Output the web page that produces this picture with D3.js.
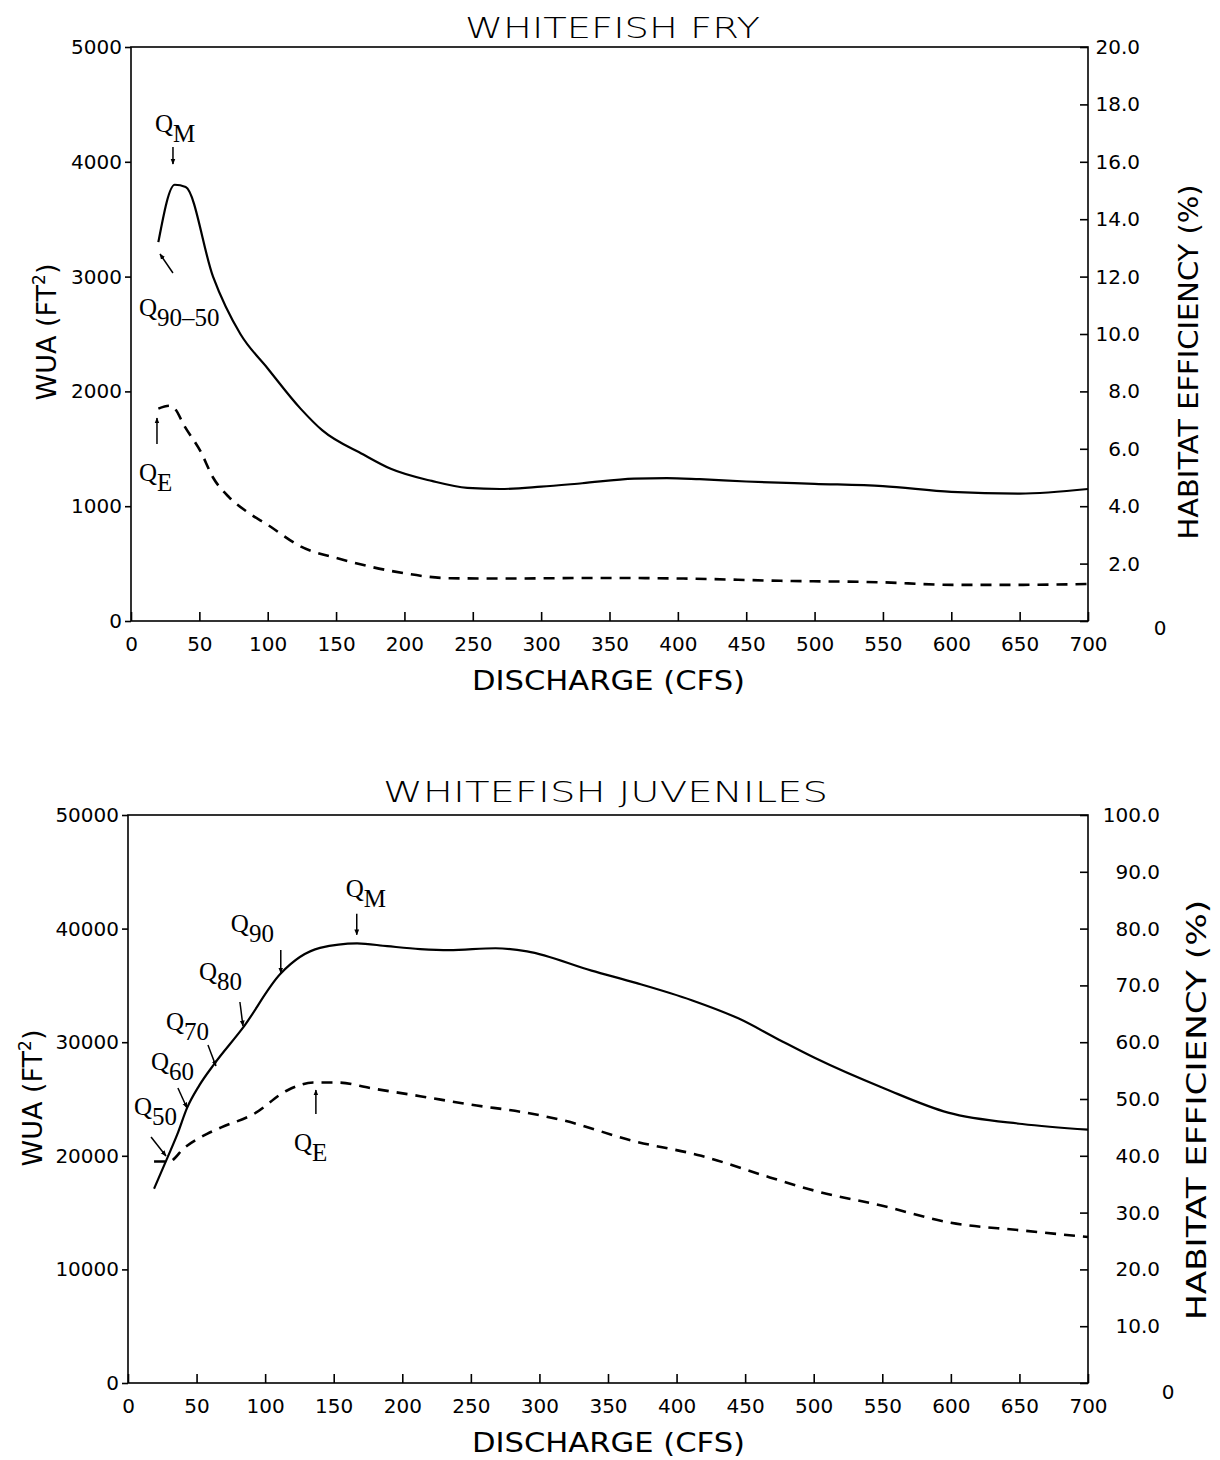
<!DOCTYPE html>
<html><head><meta charset="utf-8">
<script src="https://cdn.jsdelivr.net/npm/d3@7"></script>
<style>body{margin:0;background:#fff}</style></head>
<body>
<svg id="c" width="1220" height="1460"></svg>
<script>
// ---------- tick labels ----------
const xTickValues = [0,50,100,150,200,250,300,350,400,450,500,550,600,650,700];
const fryWuaTicks = [0,1000,2000,3000,4000,5000];
const fryEffTicks = [0,2,4,6,8,10,12,14,16,18,20];
const juvWuaTicks = [0,10000,20000,30000,40000,50000];
const juvEffTicks = [0,10,20,30,40,50,60,70,80,90,100];

// ---------- Whitefish fry ----------
const fryCfs = [20,32,40,60,80,100,124,140,170,190,220,246,270,300,330,368,392,416,450,500,550,600,650,700];
const fryWua = [3300,3800,3780,3000,2500,2200,1850,1660,1450,1326,1220,1160,1150,1170,1200,1240,1245,1235,1215,1195,1175,1125,1110,1150];
const fryEffCfs = [20,28,32,39,51,60,72,85,100,124,153,192,234,270,343,404,475,548,601,650,700];
const fryEff    = [7.4,7.5,7.4,6.8,5.9,5.0,4.3,3.8,3.35,2.6,2.16,1.73,1.49,1.48,1.5,1.48,1.4,1.35,1.26,1.26,1.29];

// ---------- Whitefish juveniles ----------
const juvCfs = [19,29,36,43,52,63,84,111,140,167,189,213,234,268,291,338,371,411,445,475,501,552,598,652,700];
const juvWua = [17100,19900,21900,24200,26200,28100,31300,36000,38300,38700,38450,38200,38100,38270,38000,36300,35200,33700,32100,30200,28600,25900,23800,22800,22300];
const juvEffCfs = [19,30,41,58,68,92,116,135,153,177,213,250,290,318,367,418,468,500,550,600,650,700];
const juvEff    = [39.0,39.0,41.4,43.9,45.0,47.4,51.5,52.9,52.9,51.9,50.5,49.0,47.6,46.2,42.7,40.0,36.2,33.9,31.2,28.2,26.9,25.7];

// ---------- annotations (data coordinates: cfs, WUA) ----------
const fryLabels = [
  {q:'Q', sub:'M', cfs:17.5, val:4260},
  {q:'Q', sub:'90\u201350', cfs:5.8, val:2657},
  {q:'Q', sub:'E', cfs:5.8, val:1220}
];
const fryArrows = [
  {c1:30.7, v1:4130, c2:30.7, v2:3980},
  {c1:30.7, v1:3031, c2:21.2, v2:3197},
  {c1:19,   v1:1542, c2:19,   v2:1768}
];
const juvLabels = [
  {q:'Q', sub:'M',  cfs:158.8, val:42800},
  {q:'Q', sub:'90', cfs:75,    val:39700},
  {q:'Q', sub:'80', cfs:51.7,  val:35480},
  {q:'Q', sub:'70', cfs:27.7,  val:31070},
  {q:'Q', sub:'60', cfs:16.8,  val:27550},
  {q:'Q', sub:'50', cfs:4.4,   val:23590},
  {q:'Q', sub:'E',  cfs:121,   val:20420}
];
const juvArrows = [
  {c1:166.8, v1:41300, c2:166.8, v2:39450},
  {c1:111.4, v1:38120, c2:111.4, v2:36090},
  {c1:81.6,  v1:33540, c2:83.8,  v2:31430},
  {c1:58.3,  v1:29750, c2:64.1,  v2:27900},
  {c1:36.4,  v1:25970, c2:43,    v2:24210},
  {c1:16.8,  v1:21650, c2:27.7,  v2:19980},
  {c1:137,   v1:23680, c2:137,   v2:25790}
];

const svg = d3.select('#c');
const FONT = 'DejaVu Sans';
svg.append('defs').append('marker')
  .attr('id','ah').attr('viewBox','0 0 10 10').attr('refX',9).attr('refY',5)
  .attr('markerWidth',6).attr('markerHeight',6).attr('orient','auto-start-reverse')
  .attr('markerUnits','userSpaceOnUse')
  .append('path').attr('d','M0,1 L10,5 L0,9 Z').attr('fill','#000');

function panel(o){
  const x = d3.scaleLinear().domain([0,700]).range([o.left,o.right]);
  const yL = d3.scaleLinear().domain([0,o.wuaMax]).range([o.bottom,o.top]);
  const yR = d3.scaleLinear().domain([0,o.effMax]).range([o.bottom,o.top]);
  const g = svg.append('g');

  // frame
  g.append('rect').attr('x',o.left).attr('y',o.top).attr('width',o.right-o.left)
   .attr('height',o.bottom-o.top).attr('fill','none').attr('stroke','#000').attr('stroke-width',1.6);

  // bottom axis
  const ax = g.append('g').attr('transform',`translate(0,${o.bottom})`)
    .call(d3.axisBottom(x).tickValues(xTickValues).tickSizeInner(-9).tickSizeOuter(0).tickPadding(16));
  ax.select('.domain').remove();
  ax.selectAll('line').attr('stroke-width',1.6);
  ax.selectAll('text').attr('font-family',FONT).attr('font-size',20).attr('fill','#000');

  // left axis
  const al = g.append('g').attr('transform',`translate(${o.left},0)`)
    .call(d3.axisLeft(yL).tickValues(o.wuaTicks).tickFormat(d3.format('d')).tickSizeInner(6).tickSizeOuter(0).tickPadding(3));
  al.select('.domain').remove();
  al.selectAll('line').attr('stroke-width',1.6);
  al.selectAll('text').attr('font-family',FONT).attr('font-size',20).attr('fill','#000');

  // right axis
  const ar = g.append('g').attr('transform',`translate(${o.right},0)`)
    .call(d3.axisRight(yR).tickValues(o.effTicks).tickFormat(d => d===0 ? '' : d3.format('.1f')(d)).tickSizeInner(-8).tickSizeOuter(0).tickPadding(0));
  ar.select('.domain').remove();
  ar.selectAll('line').attr('stroke-width',1.6);
  ar.selectAll('text').attr('font-family',FONT).attr('font-size',20).attr('fill','#000')
    .attr('text-anchor','end').attr('x',o.rLabelX);
  g.append('text').attr('x',o.right+o.zeroDX).attr('y',o.bottom+o.zeroDY)
    .attr('font-family',FONT).attr('font-size',20).attr('text-anchor','middle').text('0');

  // titles
  g.append('text').attr('x',o.titleX).attr('y',o.titleY).attr('font-family',FONT).attr('font-size',28)
    .attr('font-weight',300)
    .attr('textLength',o.titleLen).attr('lengthAdjust','spacingAndGlyphs').text(o.title);
  g.append('text').attr('x',472).attr('y',o.bottom+69).attr('font-family',FONT).attr('font-size',27)
    .attr('textLength',273).attr('lengthAdjust','spacingAndGlyphs').text('DISCHARGE (CFS)');
  const wl = g.append('text').attr('transform',`translate(${o.wuaX},${o.wuaY}) rotate(-90)`)
    .attr('font-family',FONT).attr('font-size',27).attr('text-anchor','middle');
  wl.append('tspan').text('WUA (FT');
  wl.append('tspan').attr('font-size',17).attr('dy',-11).text('2');
  wl.append('tspan').attr('dy',11).text(')');
  g.append('text').attr('transform',`translate(${o.heX},${o.heY}) rotate(-90)`)
    .attr('font-family',FONT).attr('font-size',27).attr('text-anchor','middle')
    .attr('textLength',o.heLen).attr('lengthAdjust','spacingAndGlyphs').text('HABITAT EFFICIENCY (%)');

  // series
  const lineW = d3.line().x(d=>x(d[0])).y(d=>yL(d[1])).curve(d3.curveMonotoneX);
  const lineE = d3.line().x(d=>x(d[0])).y(d=>yR(d[1])).curve(d3.curveMonotoneX);
  g.append('path').datum(o.wCfs.map((c,i)=>[c,o.wVal[i]])).attr('d',lineW)
    .attr('fill','none').attr('stroke','#000').attr('stroke-width',2.2);
  g.append('path').datum(o.eCfs.map((c,i)=>[c,o.eVal[i]])).attr('d',lineE)
    .attr('fill','none').attr('stroke','#000').attr('stroke-width',2.6).attr('stroke-dasharray','11,8');

  // annotations
  o.labels.forEach(l=>{
    const t = g.append('text').attr('x',x(l.cfs)).attr('y',yL(l.val))
      .attr('font-family','Liberation Serif').attr('font-size',25).attr('fill','#000');
    t.append('tspan').text(l.q);
    t.append('tspan').attr('font-size',25).attr('dy',10).text(l.sub);
  });
  o.arrows.forEach(a=>{
    g.append('line').attr('x1',x(a.c1)).attr('y1',yL(a.v1)).attr('x2',x(a.c2)).attr('y2',yL(a.v2))
      .attr('stroke','#000').attr('stroke-width',1.5).attr('marker-end','url(#ah)');
  });
}

panel({left:131,right:1088,top:47,bottom:621,wuaMax:5000,effMax:20,
  wuaTicks:fryWuaTicks,effTicks:fryEffTicks,rLabelX:52,zeroDX:72,zeroDY:14,
  title:'WHITEFISH FRY',titleX:465,titleY:38,titleLen:295,
  wuaX:56,wuaY:332,heX:1198,heY:362,heLen:355,
  wCfs:fryCfs,wVal:fryWua,eCfs:fryEffCfs,eVal:fryEff,labels:fryLabels,arrows:fryArrows});

panel({left:128,right:1088,top:815,bottom:1383,wuaMax:50000,effMax:100,
  wuaTicks:juvWuaTicks,effTicks:juvEffTicks,rLabelX:72,zeroDX:80,zeroDY:16,
  title:'WHITEFISH JUVENILES',titleX:383,titleY:802,titleLen:445,
  wuaX:42,wuaY:1098,heX:1206,heY:1110,heLen:420,
  wCfs:juvCfs,wVal:juvWua,eCfs:juvEffCfs,eVal:juvEff,labels:juvLabels,arrows:juvArrows});
</script>
</body></html>
